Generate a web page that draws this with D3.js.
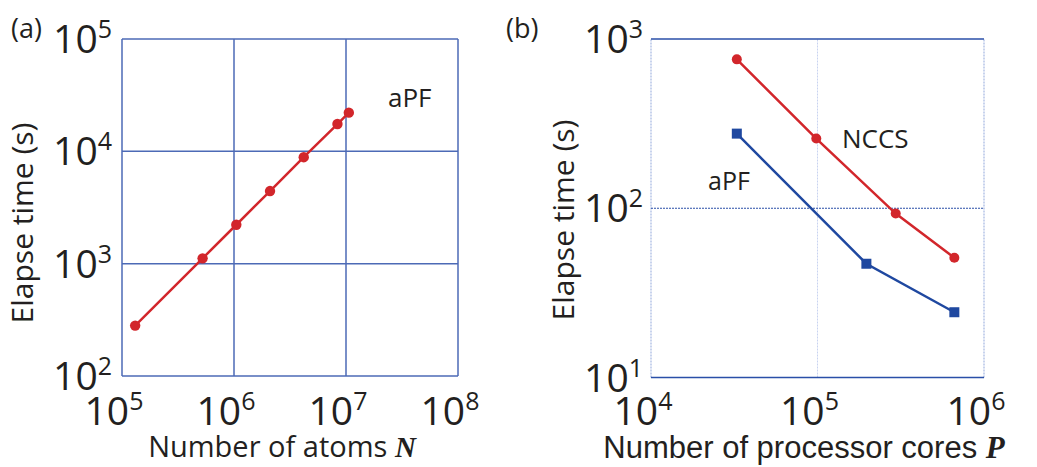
<!DOCTYPE html>
<html lang="en">
<head>
    <meta charset="utf-8">
    <title>Elapse time scaling</title>
    <style>
        body { margin: 0; background: #fff; }
        text { font-family: "Open Sans", sans-serif; fill: #231f20; }
        .ital { font-family: "Liberation Serif", serif; font-weight: bold; font-style: italic; }
    </style>
</head>
<body>
<script src="https://d3js.org/d3.v7.min.js"></script>
<script>
    // panel (a): aPF, elapse time vs number of atoms
    var atomsN = [131072, 524288, 1048576, 2097152, 4194304, 8388608, 10600000];
    var atomsTime = [281, 1115, 2220, 4430, 8870, 17500, 22100];

    // panel (b): elapse time vs number of cores
    var coresNCCS = [32768, 98304, 294912, 663552];
    var timeNCCS = [758, 258, 93, 51];
    var coresAPF = [32768, 196608, 663552];
    var timeAPF = [276, 47, 24.3];

    var xTicksA = [1e5, 1e6, 1e7, 1e8];
    var yTicksA = [1e2, 1e3, 1e4, 1e5];
    var xTicksB = [1e4, 1e5, 1e6];
    var yTicksB = [1e1, 1e2, 1e3];

    var red = "#d2262b", blue = "#1f48a0";

    var svg = d3.select("body").append("svg")
        .attr("width", 1037)
        .attr("height", 467);

    function expLabel(g, v, x, y, anchor) {
        var t = g.append("text")
            .attr("x", x)
            .attr("y", y)
            .attr("text-anchor", anchor)
            .style("font-size", "39px");
        t.append("tspan").text("10");
        t.append("tspan")
            .attr("dy", -15)
            .style("font-size", "25px")
            .text(Math.round(Math.log10(v)));
    }

    // ---------- panel (a)
    var xa = d3.scaleLog().domain([1e5, 1e8]).range([122, 458]);
    var ya = d3.scaleLog().domain([1e2, 1e5]).range([376, 39]);
    var ga = svg.append("g");

    ga.selectAll(".vgrid").data(xTicksA).enter().append("line")
        .attr("x1", function(d) { return xa(d); })
        .attr("x2", function(d) { return xa(d); })
        .attr("y1", ya(1e2)).attr("y2", ya(1e5))
        .attr("stroke", "#4c6ab6").attr("stroke-width", 1.5);
    ga.selectAll(".hgrid").data(yTicksA).enter().append("line")
        .attr("y1", function(d) { return ya(d); })
        .attr("y2", function(d) { return ya(d); })
        .attr("x1", xa(1e5)).attr("x2", xa(1e8))
        .attr("stroke", "#4c6ab6").attr("stroke-width", 1.5);

    var lineA = d3.line()
        .x(function(d) { return xa(d[0]); })
        .y(function(d) { return ya(d[1]); });
    var ptsA = d3.zip(atomsN, atomsTime);
    ga.append("path").datum(ptsA)
        .attr("d", lineA).attr("fill", "none")
        .attr("stroke", red).attr("stroke-width", 2.5);
    ga.selectAll("circle").data(ptsA).enter().append("circle")
        .attr("cx", function(d) { return xa(d[0]); })
        .attr("cy", function(d) { return ya(d[1]); })
        .attr("r", 5.2).attr("fill", red);

    xTicksA.forEach(function(v) { expLabel(ga, v, xa(v) - 8, 425, "middle"); });
    yTicksA.forEach(function(v) { expLabel(ga, v, 112, ya(v) + 14, "end"); });

    ga.append("text").attr("x", 388).attr("y", 107)
        .style("font-size", "26px").text("aPF");
    ga.append("text").attr("x", 11).attr("y", 38)
        .style("font-size", "27px").text("(a)");

    var tA = ga.append("text").attr("x", 282).attr("y", 457)
        .attr("text-anchor", "middle").style("font-size", "29px");
    tA.append("tspan").text("Number of atoms ");
    tA.append("tspan").attr("class", "ital").text("N");

    ga.append("text")
        .attr("transform", "translate(33,223) rotate(-90)")
        .attr("text-anchor", "middle").style("font-size", "30px")
        .text("Elapse time (s)");

    // ---------- panel (b)
    var xb = d3.scaleLog().domain([1e4, 1e6]).range([651, 984]);
    var yb = d3.scaleLog().domain([1e1, 1e3]).range([377.5, 39]);
    var gb = svg.append("g");

    // frame: light left/right, solid top/bottom
    gb.selectAll(".vframe").data([1e4, 1e6]).enter().append("line")
        .attr("x1", function(d) { return xb(d); })
        .attr("x2", function(d) { return xb(d); })
        .attr("y1", yb(1e1)).attr("y2", yb(1e3))
        .attr("stroke", "#a4b6e2").attr("stroke-width", 1.2)
        .attr("stroke-dasharray", "2,1");
    gb.append("line")
        .attr("x1", xb(1e5)).attr("x2", xb(1e5))
        .attr("y1", yb(1e1)).attr("y2", yb(1e3))
        .attr("stroke", "#c8d3f0").attr("stroke-width", 1)
        .attr("stroke-dasharray", "2,1");
    gb.append("line")
        .attr("x1", xb(1e4)).attr("x2", xb(1e6))
        .attr("y1", yb(1e2)).attr("y2", yb(1e2))
        .attr("stroke", "#2a4fa8").attr("stroke-width", 1.2)
        .attr("stroke-dasharray", "2,1");
    gb.selectAll(".hframe").data([1e1, 1e3]).enter().append("line")
        .attr("y1", function(d) { return yb(d); })
        .attr("y2", function(d) { return yb(d); })
        .attr("x1", xb(1e4)).attr("x2", xb(1e6))
        .attr("stroke", "#2a4fa8").attr("stroke-width", 1.5);

    var lineB = d3.line()
        .x(function(d) { return xb(d[0]); })
        .y(function(d) { return yb(d[1]); });
    var ptsN = d3.zip(coresNCCS, timeNCCS);
    var ptsP = d3.zip(coresAPF, timeAPF);

    gb.append("path").datum(ptsN)
        .attr("d", lineB).attr("fill", "none")
        .attr("stroke", red).attr("stroke-width", 2.5);
    gb.selectAll("circle").data(ptsN).enter().append("circle")
        .attr("cx", function(d) { return xb(d[0]); })
        .attr("cy", function(d) { return yb(d[1]); })
        .attr("r", 5).attr("fill", red);

    gb.append("path").datum(ptsP)
        .attr("d", lineB).attr("fill", "none")
        .attr("stroke", blue).attr("stroke-width", 2.5);
    gb.selectAll("rect").data(ptsP).enter().append("rect")
        .attr("x", function(d) { return xb(d[0]) - 5; })
        .attr("y", function(d) { return yb(d[1]) - 5; })
        .attr("width", 10).attr("height", 10).attr("fill", blue);

    xTicksB.forEach(function(v) { expLabel(gb, v, xb(v) - 8, 425, "middle"); });
    yTicksB.forEach(function(v) { expLabel(gb, v, 643, yb(v) + 14, "end"); });

    gb.append("text").attr("x", 842).attr("y", 148)
        .style("font-size", "26px").text("NCCS");
    gb.append("text").attr("x", 708).attr("y", 190)
        .style("font-size", "25px").text("aPF");
    gb.append("text").attr("x", 506).attr("y", 38)
        .style("font-size", "27px").text("(b)");

    var tB = gb.append("text").attr("x", 804).attr("y", 458)
        .attr("text-anchor", "middle")
        .style("font-family", "Liberation Sans, sans-serif")
        .style("font-size", "31px");
    tB.append("tspan").text("Number of processor cores ");
    tB.append("tspan").attr("class", "ital").text("P");

    gb.append("text")
        .attr("transform", "translate(574,220) rotate(-90)")
        .attr("text-anchor", "middle").style("font-size", "30px")
        .text("Elapse time (s)");
</script>
</body>
</html>
